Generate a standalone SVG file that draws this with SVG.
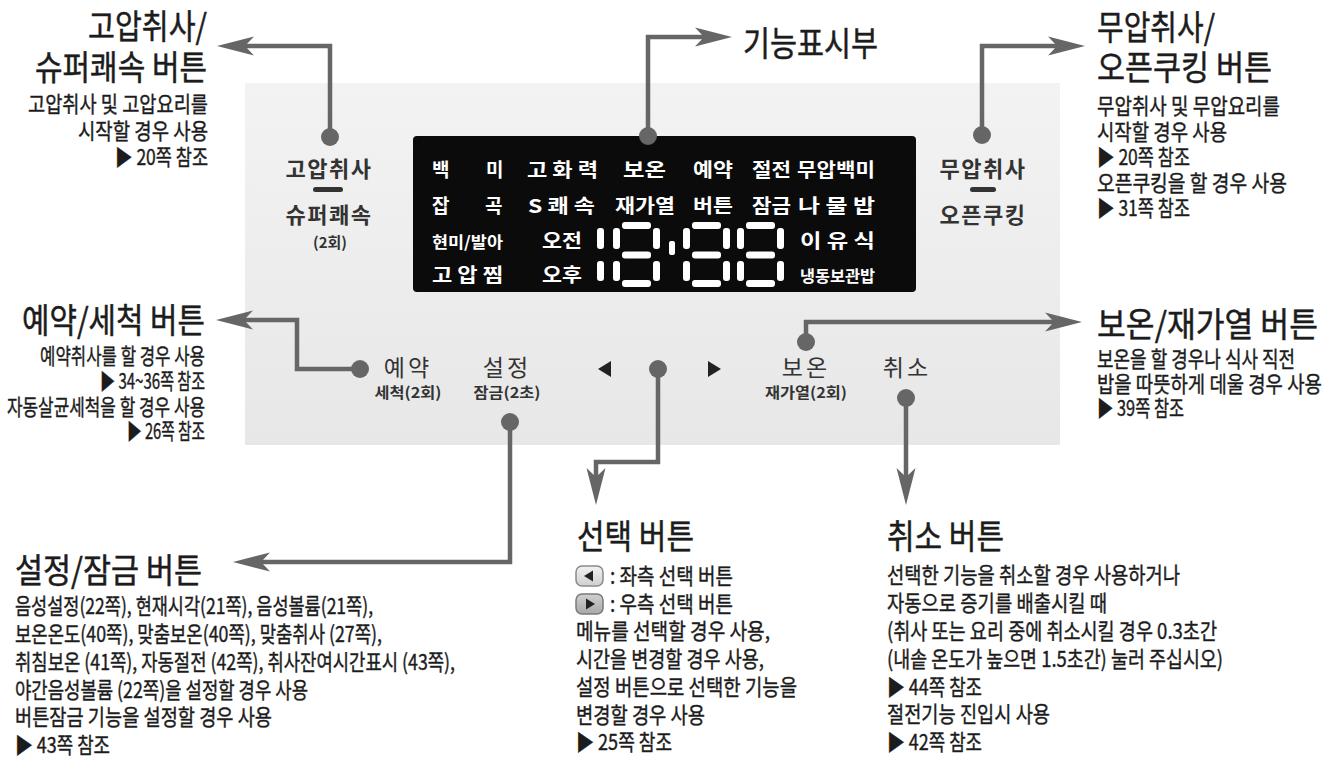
<svg xmlns="http://www.w3.org/2000/svg" width="1332" height="763" viewBox="0 0 1332 763">
<defs>
<linearGradient id="pg" x1="0" y1="0" x2="0" y2="1">
<stop offset="0" stop-color="#f3f3f3"/>
<stop offset="1" stop-color="#e7e7e7"/>
</linearGradient>
<linearGradient id="ib1" x1="0" y1="0" x2="0" y2="1">
<stop offset="0" stop-color="#f2f2f2"/>
<stop offset="1" stop-color="#cfcfcf"/>
</linearGradient>
<linearGradient id="ib2" x1="0" y1="0" x2="0" y2="1">
<stop offset="0" stop-color="#d0d0d0"/>
<stop offset="1" stop-color="#a8a8a8"/>
</linearGradient>
<marker id="ah" markerUnits="userSpaceOnUse" markerWidth="38" markerHeight="20" refX="10" refY="10" orient="auto" viewBox="0 0 38 20">
<path d="M0,0.5 L37,10 L0,19.5 L9,10 Z" fill="#666"/>
</marker>
<g id="d8" fill="#fff">
<rect x="9" y="0" width="29" height="7" rx="3"/>
<rect x="9" y="29.5" width="29" height="7" rx="3"/>
<rect x="9" y="58" width="29" height="7" rx="3"/>
<rect x="0" y="6" width="7" height="21" rx="3"/>
<rect x="0" y="39" width="7" height="20" rx="3"/>
<rect x="40" y="6" width="7" height="21" rx="3"/>
<rect x="40" y="39" width="7" height="20" rx="3"/>
</g>
<style>
text{font-family:"Noto Sans CJK KR","Noto Sans",sans-serif;fill:#1c1c1c}
.h{font-size:34px;stroke:#1c1c1c;stroke-width:0.5px}
.d{font-size:22px;stroke:#1c1c1c;stroke-width:0.4px}
.btn{font-size:22px;font-weight:700;fill:#333}
.lbl{font-size:23px;fill:#333;letter-spacing:3px}
.sub{font-size:15px;font-weight:700;fill:#333}
.ds{font-size:19px;font-weight:700;fill:#fff}
.dss{font-size:16px;font-weight:700;fill:#fff}
.con{fill:none;stroke:#666;stroke-width:4.5;marker-end:url(#ah)}
.dot{fill:#666}
.tri{fill:#222}
</style>
</defs>

<rect id="panel" x="245" y="83" width="815" height="362" fill="url(#pg)"/>

<g id="display">
<rect x="413" y="136" width="503" height="156" rx="4" fill="#0b0b0b"/>
<text class="ds" x="432" y="177">백</text>
<text class="ds" x="486" y="177">미</text>
<text class="ds" x="527" y="177" textLength="71" lengthAdjust="spacingAndGlyphs">고 화 력</text>
<text class="ds" x="623" y="177" textLength="43" lengthAdjust="spacingAndGlyphs">보온</text>
<text class="ds" x="693" y="177" textLength="40" lengthAdjust="spacingAndGlyphs">예약</text>
<text class="ds" x="752" y="177" textLength="39" lengthAdjust="spacingAndGlyphs">절전</text>
<text class="ds" x="797" y="177" textLength="78" lengthAdjust="spacingAndGlyphs">무압백미</text>
<text class="ds" x="432" y="213">잡</text>
<text class="ds" x="485" y="213">곡</text>
<text class="ds" x="528" y="213" textLength="67" lengthAdjust="spacingAndGlyphs">S 쾌 속</text>
<text class="ds" x="615" y="213" textLength="60" lengthAdjust="spacingAndGlyphs">재가열</text>
<text class="ds" x="693" y="213" textLength="40" lengthAdjust="spacingAndGlyphs">버튼</text>
<text class="ds" x="752" y="213" textLength="39" lengthAdjust="spacingAndGlyphs">잠금</text>
<text class="ds" x="798" y="213" textLength="77" lengthAdjust="spacingAndGlyphs">나 물 밥</text>
<text class="dss" x="432" y="248" textLength="71" lengthAdjust="spacingAndGlyphs">현미/발아</text>
<text class="ds" x="542" y="248" textLength="40" lengthAdjust="spacingAndGlyphs">오전</text>
<text class="ds" x="800" y="248" textLength="75" lengthAdjust="spacingAndGlyphs">이 유 식</text>
<text class="ds" x="432" y="282" textLength="71" lengthAdjust="spacingAndGlyphs">고 압 찜</text>
<text class="ds" x="542" y="282" textLength="40" lengthAdjust="spacingAndGlyphs">오후</text>
<text class="dss" x="800" y="282" textLength="75" lengthAdjust="spacingAndGlyphs">냉동보관밥</text>
<g fill="#fff">
<rect x="597" y="228" width="7" height="21" rx="3"/>
<rect x="597" y="261" width="7" height="20" rx="3"/>
<rect x="669" y="241" width="6" height="14" rx="2"/>
</g>
<use href="#d8" x="613" y="222"/>
<use href="#d8" x="683" y="222"/>
<use href="#d8" x="737" y="222"/>
</g>

<g id="btn-gobap">
<text class="btn" x="329" y="177" text-anchor="middle" letter-spacing="1.5">고압취사</text>
<rect x="313" y="187" width="30" height="5" rx="2.5" fill="#333"/>
<text class="btn" x="329" y="223" text-anchor="middle" letter-spacing="1.5">슈퍼쾌속</text>
<text class="sub" x="330" y="248" text-anchor="middle" font-size="13">(2회)</text>
</g>

<g id="btn-muap">
<text class="btn" x="983" y="177" text-anchor="middle" letter-spacing="1.5">무압취사</text>
<rect x="970" y="187" width="26" height="5" rx="2.5" fill="#333"/>
<text class="btn" x="983" y="223" text-anchor="middle" letter-spacing="1.5">오픈쿠킹</text>
</g>

<g id="btn-yeyak">
<text class="lbl" x="408" y="376" text-anchor="middle">예약</text>
<text class="sub" x="408" y="398" text-anchor="middle" textLength="67" lengthAdjust="spacingAndGlyphs">세척(2회)</text>
</g>
<g id="btn-seoljeong">
<text class="lbl" x="507" y="376" text-anchor="middle">설정</text>
<text class="sub" x="507" y="398" text-anchor="middle" textLength="67" lengthAdjust="spacingAndGlyphs">잠금(2초)</text>
</g>
<g id="btn-select">
<polygon class="tri" points="598,369 611,361 611,377"/>
<polygon class="tri" points="721,369 708,361 708,377"/>
</g>
<g id="btn-boon">
<text class="lbl" x="806" y="376" text-anchor="middle">보온</text>
<text class="sub" x="806" y="398" text-anchor="middle" textLength="82" lengthAdjust="spacingAndGlyphs">재가열(2회)</text>
</g>
<g id="btn-cancel">
<text class="lbl" x="907" y="376" text-anchor="middle">취소</text>
</g>

<g id="connectors">
<path class="con" d="M330,137 V46 H244"/>
<path class="con" d="M982,135 V46 H1058"/>
<path class="con" d="M648,136 V37 H705"/>
<path class="con" d="M360,369 H297 V320 H243"/>
<path class="con" d="M806,342 V322 H1055"/>
<path class="con" d="M510,422 V562 H260"/>
<path class="con" d="M658,369 V462 H596 V478"/>
<path class="con" d="M906,398 V478"/>
<circle class="dot" cx="330" cy="137" r="9"/>
<circle class="dot" cx="982" cy="135" r="9"/>
<circle class="dot" cx="648" cy="136" r="9"/>
<circle class="dot" cx="360" cy="369" r="9"/>
<circle class="dot" cx="806" cy="342" r="9"/>
<circle class="dot" cx="510" cy="422" r="9"/>
<circle class="dot" cx="658" cy="369" r="9"/>
<circle class="dot" cx="906" cy="398" r="9"/>
</g>

<g id="label-gobap">
<text class="h" x="207" y="39" text-anchor="end" textLength="119" lengthAdjust="spacingAndGlyphs">고압취사/</text>
<text class="h" x="207" y="80" text-anchor="end" textLength="172" lengthAdjust="spacingAndGlyphs">슈퍼쾌속 버튼</text>
<text class="d" x="208" y="112" text-anchor="end" textLength="180" lengthAdjust="spacingAndGlyphs">고압취사 및 고압요리를</text>
<text class="d" x="208" y="139" text-anchor="end" textLength="130" lengthAdjust="spacingAndGlyphs">시작할 경우 사용</text>
<text class="d" x="208" y="165" text-anchor="end" textLength="93" lengthAdjust="spacingAndGlyphs">▶ 20쪽 참조</text>
</g>

<g id="label-display">
<text class="h" x="743" y="56" font-size="32" textLength="135" lengthAdjust="spacingAndGlyphs">기능표시부</text>
</g>

<g id="label-muap">
<text class="h" x="1097" y="40" textLength="118" lengthAdjust="spacingAndGlyphs">무압취사/</text>
<text class="h" x="1097" y="80" textLength="175" lengthAdjust="spacingAndGlyphs">오픈쿠킹 버튼</text>
<text class="d" x="1097" y="114" textLength="183" lengthAdjust="spacingAndGlyphs">무압취사 및 무압요리를</text>
<text class="d" x="1097" y="140" textLength="130" lengthAdjust="spacingAndGlyphs">시작할 경우 사용</text>
<text class="d" x="1097" y="165" textLength="93" lengthAdjust="spacingAndGlyphs">▶ 20쪽 참조</text>
<text class="d" x="1097" y="191" textLength="190" lengthAdjust="spacingAndGlyphs">오픈쿠킹을 할 경우 사용</text>
<text class="d" x="1097" y="216" textLength="93" lengthAdjust="spacingAndGlyphs">▶ 31쪽 참조</text>
</g>

<g id="label-yeyak">
<text class="h" x="205" y="333" text-anchor="end" textLength="183" lengthAdjust="spacingAndGlyphs">예약/세척 버튼</text>
<text class="d" x="205" y="364" text-anchor="end" textLength="165" lengthAdjust="spacingAndGlyphs">예약취사를 할 경우 사용</text>
<text class="d" x="205" y="389" text-anchor="end" textLength="105" lengthAdjust="spacingAndGlyphs">▶ 34~36쪽 참조</text>
<text class="d" x="205" y="415" text-anchor="end" textLength="198" lengthAdjust="spacingAndGlyphs">자동살균세척을 할 경우 사용</text>
<text class="d" x="205" y="439" text-anchor="end" textLength="78" lengthAdjust="spacingAndGlyphs">▶ 26쪽 참조</text>
</g>

<g id="label-boon">
<text class="h" transform="translate(1097,337) scale(0.85,1)" x="0" y="0" textLength="260" lengthAdjust="spacingAndGlyphs">보온/재가열 버튼</text>
<text class="d" transform="translate(1097,367) scale(0.78,1)" x="0" y="0" textLength="254" lengthAdjust="spacingAndGlyphs">보온을 할 경우나 식사 직전</text>
<text class="d" transform="translate(1097,392) scale(0.8,1)" x="0" y="0" textLength="281" lengthAdjust="spacingAndGlyphs">밥을 따뜻하게 데울 경우 사용</text>
<text class="d" x="1097" y="416" textLength="87" lengthAdjust="spacingAndGlyphs">▶ 39쪽 참조</text>
</g>

<g id="label-seoljeong">
<text class="h" x="15" y="583" textLength="187" lengthAdjust="spacingAndGlyphs">설정/잠금 버튼</text>
<text class="d" x="15" y="614" textLength="358" lengthAdjust="spacingAndGlyphs">음성설정(22쪽), 현재시각(21쪽), 음성볼륨(21쪽),</text>
<text class="d" x="15" y="642" textLength="367" lengthAdjust="spacingAndGlyphs">보온온도(40쪽), 맞춤보온(40쪽), 맞춤취사 (27쪽),</text>
<text class="d" x="15" y="670" textLength="440" lengthAdjust="spacingAndGlyphs">취침보온 (41쪽), 자동절전 (42쪽), 취사잔여시간표시 (43쪽),</text>
<text class="d" x="15" y="698" textLength="293" lengthAdjust="spacingAndGlyphs">야간음성볼륨 (22쪽)을 설정할 경우 사용</text>
<text class="d" x="15" y="725" textLength="257" lengthAdjust="spacingAndGlyphs">버튼잠금 기능을 설정할 경우 사용</text>
<text class="d" x="15" y="753" textLength="95" lengthAdjust="spacingAndGlyphs">▶ 43쪽 참조</text>
</g>

<g id="label-select">
<text class="h" x="577" y="549" textLength="117" lengthAdjust="spacingAndGlyphs">선택 버튼</text>
<rect x="576" y="566" width="27" height="20" rx="6" fill="url(#ib1)" stroke="#8a8a8a" stroke-width="1.5"/>
<polygon class="tri" points="584,576 593,570.5 593,581.5"/>
<text class="d" x="610" y="584" textLength="123" lengthAdjust="spacingAndGlyphs">: 좌측 선택 버튼</text>
<rect x="576" y="594" width="27" height="20" rx="6" fill="url(#ib2)" stroke="#7a7a7a" stroke-width="1.5"/>
<polygon class="tri" points="595,604 586,598.5 586,609.5"/>
<text class="d" x="610" y="612" textLength="123" lengthAdjust="spacingAndGlyphs">: 우측 선택 버튼</text>
<text class="d" x="576" y="639" textLength="194" lengthAdjust="spacingAndGlyphs">메뉴를 선택할 경우 사용,</text>
<text class="d" x="576" y="667" textLength="188" lengthAdjust="spacingAndGlyphs">시간을 변경할 경우 사용,</text>
<text class="d" x="576" y="695" textLength="221" lengthAdjust="spacingAndGlyphs">설정 버튼으로 선택한 기능을</text>
<text class="d" x="576" y="723" textLength="129" lengthAdjust="spacingAndGlyphs">변경할 경우 사용</text>
<text class="d" x="576" y="750" textLength="96" lengthAdjust="spacingAndGlyphs">▶ 25쪽 참조</text>
</g>

<g id="label-cancel">
<text class="h" x="887" y="549" textLength="117" lengthAdjust="spacingAndGlyphs">취소 버튼</text>
<text class="d" x="887" y="583" textLength="293" lengthAdjust="spacingAndGlyphs">선택한 기능을 취소할 경우 사용하거나</text>
<text class="d" x="887" y="611" textLength="220" lengthAdjust="spacingAndGlyphs">자동으로 증기를 배출시킬 때</text>
<text class="d" x="887" y="639" textLength="330" lengthAdjust="spacingAndGlyphs">(취사 또는 요리 중에 취소시킬 경우 0.3초간</text>
<text class="d" x="887" y="667" textLength="336" lengthAdjust="spacingAndGlyphs">(내솥 온도가 높으면 1.5초간) 눌러 주십시오)</text>
<text class="d" x="887" y="695" textLength="95" lengthAdjust="spacingAndGlyphs">▶ 44쪽 참조</text>
<text class="d" x="887" y="722" textLength="163" lengthAdjust="spacingAndGlyphs">절전기능 진입시 사용</text>
<text class="d" x="887" y="750" textLength="95" lengthAdjust="spacingAndGlyphs">▶ 42쪽 참조</text>
</g>
</svg>
